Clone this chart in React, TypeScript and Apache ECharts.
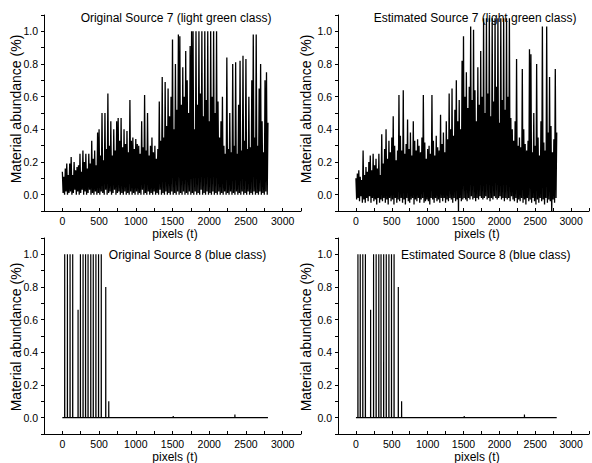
import React, { useEffect, useRef } from "react";
import * as echarts from "echarts";

// pixel index step between stored samples (t units)
const T_STEP = 10;

// Original Source 7 (light green class), t = 0..2800 every 10
const original7 = [
  .14,.01,.11,.00,.16,.02,.19,.00,.12,.01,
  .19,.02,.23,.00,.12,.01,.20,.03,.15,.00,
  .17,.02,.18,.00,.25,.01,.14,.03,.27,.00,
  .20,.02,.25,.00,.16,.01,.25,.03,.19,.00,
  .33,.01,.22,.00,.27,.02,.18,.00,.38,.01,
  .40,.00,.24,.02,.50,.01,.21,.00,.50,.03,
  .28,.00,.62,.01,.30,.02,.45,.00,.24,.01,
  .40,.03,.27,.00,.45,.01,.47,.02,.33,.00,
  .47,.01,.29,.00,.40,.02,.31,.00,.39,.01,
  .26,.00,.58,.02,.33,.00,.35,.01,.28,.00,
  .34,.02,.31,.00,.30,.01,.25,.00,.45,.03,
  .29,.00,.61,.01,.27,.00,.50,.02,.24,.00,
  .30,.01,.35,.00,.26,.02,.30,.00,.22,.01,
  .28,.00,.57,.03,.33,.00,.72,.01,.35,.00,
  .69,.02,.42,.00,.65,.01,.48,.00,.60,.02,
  .95,.00,.40,.01,.80,.00,.52,.02,.98,.00,
  .97,.01,.55,.00,.78,.02,.60,.00,.88,.01,
  .70,.00,.50,.02,.91,.00,1.0,.01,1.0,.00,
  .40,.02,1.0,.00,.55,.01,1.0,.00,.62,.03,
  1.0,.00,.48,.01,1.0,.00,.58,.02,1.0,.00,
  .45,.01,1.0,.00,.60,.02,1.0,.00,.50,.01,
  1.0,.00,.57,.02,.35,.00,.45,.01,.60,.00,
  .30,.02,.25,.00,.84,.01,.28,.00,.50,.02,
  .26,.00,.80,.01,.30,.00,.81,.02,.25,.00,
  .55,.01,.82,.00,.27,.02,.85,.00,.33,.01,
  .83,.00,.28,.02,.60,.00,.29,.01,.70,.00,
  .98,.02,.35,.00,.98,.01,.30,.00,.65,.02,
  .80,.00,.45,.01,.26,.00,.70,.02,.75,.00,
  .44,
];

// Estimated Source 7 (light green class), t = 0..2800 every 10
const estimated7 = [
  .10,-.03,.13,-.02,.15,-.04,.11,-.01,.09,-.05,
  .27,-.03,.12,-.05,.17,-.02,.14,-.04,.20,-.01,
  .24,-.05,.15,-.02,.25,-.04,.18,-.03,.22,-.06,
  .16,-.02,.25,-.05,.12,-.03,.37,-.04,.19,-.02,
  .28,-.05,.40,-.03,.22,-.06,.33,-.02,.26,-.04,
  .35,-.03,.48,-.06,.30,-.02,.21,-.05,.27,-.03,
  .61,-.04,.36,-.02,.27,-.05,.64,-.03,.25,-.06,
  .31,-.02,.46,-.04,.28,-.05,.38,-.03,.24,-.02,
  .45,-.06,.33,-.03,.27,-.04,.34,-.02,.30,-.05,
  .26,-.03,.35,-.02,.61,-.05,.32,-.04,.22,-.03,
  .28,-.04,.30,-.06,.25,-.02,.61,-.03,.33,-.05,
  .24,-.02,.36,-.04,.29,-.03,.27,-.05,.49,-.02,
  .31,-.04,.38,-.02,.26,-.05,.45,-.03,.34,-.04,
  .62,-.02,.40,-.03,.65,-.05,.36,-.02,.52,-.04,
  .70,-.03,.45,-.12,.58,-.02,.40,-.04,.82,-.03,
  .97,-.02,.60,-.03,.75,-.04,.53,-.02,.66,-.03,
  1.03,-.01,.58,-.03,1.01,-.02,.64,-.04,.45,-.02,
  .78,-.03,.55,-.01,.88,-.02,.60,-.03,1.08,-.02,
  .50,-.01,1.08,-.03,.62,-.02,1.08,-.04,.48,-.02,
  1.08,-.03,.57,-.01,1.08,-.02,.66,-.03,1.08,-.02,
  .44,-.01,1.08,-.03,.58,-.02,1.08,-.04,.52,-.02,
  1.08,-.03,.60,-.02,1.08,-.04,.47,-.01,.40,-.03,
  .33,-.04,.45,-.02,.83,-.05,.30,-.03,.35,-.04,
  .29,-.02,.77,-.05,.40,-.03,.31,-.06,.27,-.02,
  .33,-.04,.89,-.03,.86,-.05,.26,-.02,.50,-.04,
  .30,-.06,.80,-.03,.35,-.05,.24,-.02,.45,-.04,
  1.03,-.03,.32,-.06,.27,-.02,1.03,-.05,.38,-.03,
  .72,-.04,.42,-.12,.26,-.03,.34,-.05,.77,-.02,
  .38,
];

// Source 8 (blue class): spike positions (t) and heights
const original8Times = [32, 69, 105, 141, 214, 246, 282, 316, 350, 387, 421, 457, 493, 530, 591, 632, 1510, 2350];
const original8Values = [1, 1, 1, 1, 0.66, 1, 1, 1, 1, 1, 1, 1, 1, 1, 0.8, 0.1, 0.01, 0.02];
const estimated8Times = [28, 60, 96, 132, 205, 246, 282, 319, 350, 387, 423, 460, 496, 532, 591, 637, 1510, 2350];
const estimated8Values = [1, 1, 1, 1, 0.66, 1, 1, 1, 1, 1, 1, 1, 1, 1, 0.8, 0.1, 0.01, 0.02];
const T_END = 2800;

const xTickLabels = ["0", "500", "1000", "1500", "2000", "2500", "3000"];
const yTickLabels = ["0.0", "0.2", "0.4", "0.6", "0.8", "1.0"];

const titles = [
  "Original Source 7 (light green class)",
  "Estimated Source 7 (light green class)",
  "Original Source 8 (blue class)",
  "Estimated Source 8 (blue class)",
];
const xName = "pixels (t)";
const yName = "Material abundance (%)";

function denseSeries(vals: number[]) {
  return vals.map((v, i) => [i * T_STEP, v]);
}
function spikeSeries(times: number[], vals: number[]) {
  const out: number[][] = [[0, 0]];
  times.forEach((t, i) => {
    out.push([t - 1, 0], [t, vals[i]], [t + 1, 0]);
  });
  out.push([T_END, 0]);
  return out;
}

const FONT = '"Liberation Sans", Arial, sans-serif';
const TICKFONT = '"Liberation Sans Narrow", "Liberation Sans", Arial, sans-serif';

export default function App() {
  const ref = useRef<HTMLDivElement>(null);
  useEffect(() => {
    if (!ref.current) return;
    const chart = echarts.init(ref.current, undefined, { renderer: "svg" });
    const grids = [
      { left: 44, top: 15, width: 257, height: 196 },
      { left: 338, top: 15, width: 257, height: 196 },
      { left: 44, top: 238, width: 257, height: 196 },
      { left: 338, top: 238, width: 257, height: 196 },
    ];
    const xAxes = grids.map((_, i) => ({
      type: "value",
      gridIndex: i,
      min: -250,
      max: 3250,
      interval: 250,
      axisLine: { show: true, onZero: false, lineStyle: { color: "#000", width: 1 } },
      axisTick: { show: true, inside: true, length: 3, lineStyle: { color: "#000" } },
      splitLine: { show: false },
      axisLabel: {
        color: "#000",
        fontSize: 10.5,
        fontFamily: TICKFONT,
        margin: 4,
        showMinLabel: true,
        showMaxLabel: true,
        formatter: (v: number) => {
          const k = Math.round(v);
          if (k < 0 || k % 500 !== 0) return "";
          return xTickLabels[k / 500] ?? "";
        },
      },
    }));
    const yAxes = grids.map((_, i) => ({
      type: "value",
      gridIndex: i,
      min: -0.1,
      max: 1.1,
      interval: 0.1,
      axisLine: { show: true, onZero: false, lineStyle: { color: "#000", width: 1 } },
      axisTick: { show: true, inside: false, length: 3, lineStyle: { color: "#000" } },
      splitLine: { show: false },
      axisLabel: {
        color: "#000",
        fontSize: 10.5,
        fontFamily: TICKFONT,
        margin: 6,
        showMinLabel: true,
        showMaxLabel: true,
        formatter: (v: number) => {
          const r = Math.round(v * 10);
          if (r < 0 || r > 10 || r % 2 !== 0) return "";
          return yTickLabels[r / 2];
        },
      },
    }));
    const lineBase = {
      type: "line",
      showSymbol: false,
      symbol: "none",
      clip: true,
      lineStyle: { color: "#000", width: 1.3 },
      silent: true,
    };
    const series = [
      { ...lineBase, xAxisIndex: 0, yAxisIndex: 0, data: denseSeries(original7) },
      { ...lineBase, xAxisIndex: 1, yAxisIndex: 1, data: denseSeries(estimated7) },
      { ...lineBase, xAxisIndex: 2, yAxisIndex: 2, data: spikeSeries(original8Times, original8Values), lineStyle: { color: "#000", width: 1.2 } },
      { ...lineBase, xAxisIndex: 3, yAxisIndex: 3, data: spikeSeries(estimated8Times, estimated8Values), lineStyle: { color: "#000", width: 1.2 } },
    ];
    const txt = (text: string, x: number, y: number, size: number, rot = 0) => ({
      type: "text",
      x,
      y,
      rotation: rot,
      style: {
        text,
        font: `${size}px ${FONT}`,
        fill: "#000",
        align: "center",
        verticalAlign: "middle",
        textAlign: "center",
        textVerticalAlign: "middle",
      },
      silent: true,
    });
    const graphic = [
      txt(titles[0], 176, 17.5, 12),
      txt(titles[1], 475, 17.5, 12),
      txt(titles[2], 187.5, 254.5, 12),
      txt(titles[3], 485.7, 254.5, 12),
      txt(xName, 175, 234, 12),
      txt(xName, 477, 234, 12),
      txt(xName, 175, 457, 12),
      txt(xName, 477, 457, 12),
      txt(yName, 16, 109, 14, Math.PI / 2),
      txt(yName, 306, 109, 14, Math.PI / 2),
      txt(yName, 16, 337, 14, Math.PI / 2),
      txt(yName, 306, 337, 14, Math.PI / 2),
    ];
    chart.setOption({
      animation: false,
      backgroundColor: "#fff",
      grid: grids,
      xAxis: xAxes,
      yAxis: yAxes,
      series,
      graphic,
    } as any);
    return () => chart.dispose();
  }, []);
  return (
    <div
      ref={ref}
      style={{ position: "absolute", left: 0, top: 0, width: 592, height: 463 }}
    />
  );
}
